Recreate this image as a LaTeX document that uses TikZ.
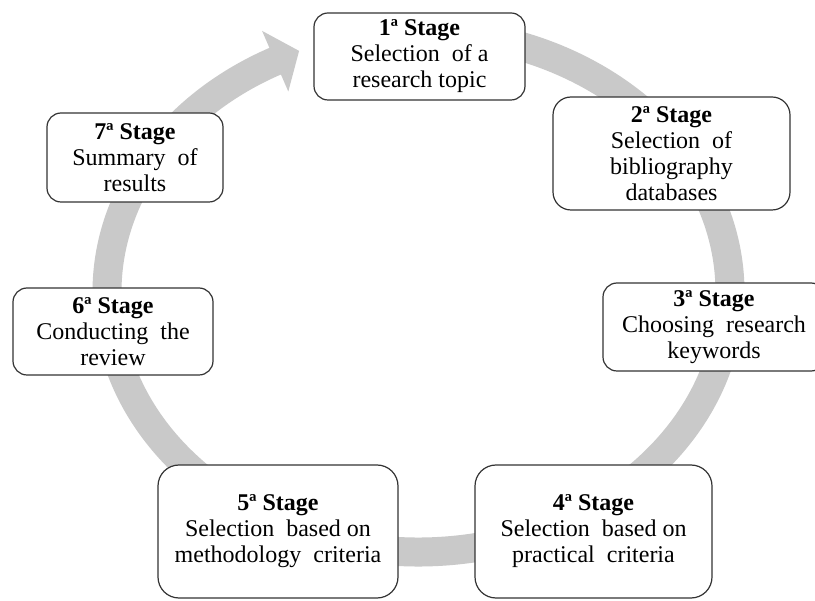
\documentclass[tikz,border=0pt]{standalone}
\usepackage{fontspec}
\setmainfont{Liberation Serif}
\definecolor{ringgray}{HTML}{C9C9C9}
\definecolor{boxline}{HTML}{333333}
\begin{document}
\begin{tikzpicture}[x=1pt,y=-1pt,
  stagebox/.style={draw=boxline, line width=1.2pt, fill=white, rectangle,
    align=center, inner sep=0pt, font=\fontsize{24}{26}\selectfont},
  ring/.style={draw=ringgray, line width=29pt},
  ringhead/.style={fill=ringgray}
]
\useasboundingbox (0,0) rectangle (815,601);
\clip (0,0) rectangle (815,601);
\fill[white] (0,0) rectangle (815,601);
% circular flow band
\draw[ring] (391.35,33.0) arc[start angle=265, end angle=602.8, x radius=311.5, y radius=260];
\fill[ringhead] (262.1,30.9) -- (299.1,50.9) -- (288.3,91.5) -- cycle;
% stages
\node[stagebox, rounded corners=14pt, minimum width=211pt, minimum height=87pt] (s1) at (419.5,56.5)
  {\textbf{1ª Stage}\\Selection \ of a\\research topic};
\node[stagebox, rounded corners=18pt, minimum width=237pt, minimum height=113pt] (s2) at (671.5,153.5)
  {\textbf{2ª Stage}\\Selection \ of\\bibliography\\databases};
\node[stagebox, rounded corners=14pt, minimum width=222pt, minimum height=88pt] (s3) at (714,327)
  {\textbf{3ª Stage}\\Choosing \ research\\keywords};
\node[stagebox, rounded corners=21pt, minimum width=237pt, minimum height=133pt] (s4) at (593.5,531.5)
  {\textbf{4ª Stage}\\Selection \ based on\\practical \ criteria};
\node[stagebox, rounded corners=21pt, minimum width=240pt, minimum height=133pt] (s5) at (278,531.5)
  {\textbf{5ª Stage}\\Selection \ based on\\methodology \ criteria};
\node[stagebox, rounded corners=14pt, minimum width=200pt, minimum height=87pt] (s6) at (113,331.5)
  {\textbf{6ª Stage}\\Conducting \ the\\review};
\node[stagebox, rounded corners=14pt, minimum width=176pt, minimum height=89pt] (s7) at (135,157.5)
  {\textbf{7ª Stage}\\Summary \ of\\results};
\end{tikzpicture}
\end{document}
